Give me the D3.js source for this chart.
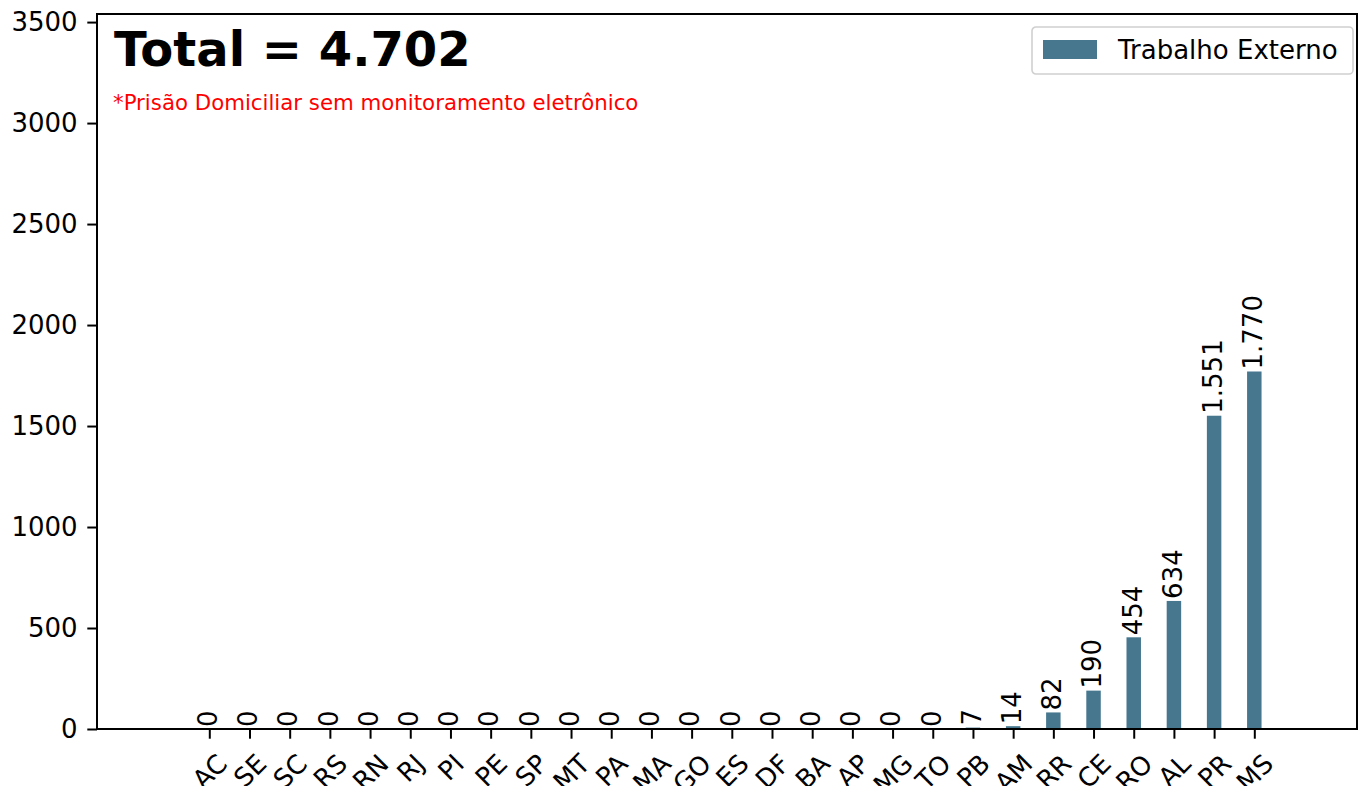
<!DOCTYPE html>
<html>
<head>
<meta charset="utf-8">
<script src="https://cdn.jsdelivr.net/npm/d3@7"></script>
<style>
  body { margin: 0; background: #fff; }
  svg { display: block; font-family: "DejaVu Sans", sans-serif; }
  svg text { font-family: "DejaVu Sans", sans-serif; }
</style>
</head>
<body>
<div id="chart"></div>
<script>
// states, ordered as in the picture
var states = ["AC", "SE", "SC", "RS", "RN", "RJ", "PI", "PE", "SP", "MT", "PA", "MA", "GO", "ES",
    "DF", "BA", "AP", "MG", "TO", "PB", "AM", "RR", "CE", "RO", "AL", "PR", "MS"];
var trabalhoExterno = [0, 0, 0, 0, 0, 0, 0, 0, 0, 0, 0, 0, 0, 0,
    0, 0, 0, 0, 0, 7, 14, 82, 190, 454, 634, 1551, 1770];
var yTicks = [0, 500, 1000, 1500, 2000, 2500, 3000, 3500];
var seriesName = "Trabalho Externo";
var subtitle = "*Prisão Domiciliar sem monitoramento eletrônico";

// brazilian thousands separator
var fmt = function(v){ return d3.format(",")(v).replace(/,/g, "."); };
var total = d3.sum(trabalhoExterno);

var margin = {top: 14, right: 2, bottom: 57, left: 97};
var W = 1359, H = 786;
var width = W - margin.left - margin.right;
var height = H - margin.top - margin.bottom;
var barColor = "#46778f";
var fs = 26;      // tick / label font size
var tickLen = 9.7;

var svg = d3.select("#chart").append("svg")
    .attr("width", W)
    .attr("height", H);

var g = svg.append("g")
    .attr("transform", "translate(" + margin.left + "," + margin.top + ")");

var x = d3.scaleLinear()
    .domain([-2.794, states.length - 1 + 2.555])
    .range([0, width]);

var y = d3.scaleLinear()
    .domain([0, 2 * d3.max(trabalhoExterno)])
    .range([height, 0]);

var step = x(1) - x(0);
var barW = step * 0.36;

// bars
g.selectAll("rect.bar")
    .data(trabalhoExterno)
    .enter().append("rect")
    .attr("class", "bar")
    .attr("x", (d, i) => x(i) - barW / 2)
    .attr("y", d => y(d))
    .attr("width", barW)
    .attr("height", d => height - y(d))
    .attr("fill", barColor);

// value labels, rotated
g.selectAll("text.val")
    .data(trabalhoExterno)
    .enter().append("text")
    .attr("class", "val")
    .attr("transform", (d, i) => "translate(" + x(i) + "," + (y(d) - 2) + ") rotate(-90)")
    .attr("dy", "0.3em")
    .attr("text-anchor", "start")
    .style("font-size", fs + "px")
    .text(d => fmt(d));

// y axis
var yAxis = g.append("g")
    .call(d3.axisLeft(y).tickValues(yTicks).tickSize(tickLen).tickPadding(tickLen).tickFormat(d3.format("d")));
yAxis.attr("font-family", null);
yAxis.selectAll("text").style("font-size", fs + "px").attr("fill", "#000");
yAxis.selectAll("line").attr("stroke-width", 2);
yAxis.select(".domain").remove();

// x axis
var xAxis = g.append("g")
    .attr("transform", "translate(0," + height + ")")
    .call(d3.axisBottom(x).tickValues(d3.range(states.length)).tickSize(tickLen).tickFormat(i => states[i]));
xAxis.attr("font-family", null);
xAxis.select(".domain").remove();
xAxis.selectAll("line").attr("stroke-width", 2);
xAxis.selectAll("text")
    .style("font-size", fs + "px")
    .attr("fill", "#000")
    .attr("text-anchor", "middle")
    .attr("dy", null)
    .attr("dominant-baseline", "central")
    .each(function(){
        var t = d3.select(this);
        var w = this.getComputedTextLength();
        var bh = (w + fs * 1.16) * Math.SQRT1_2;
        t.attr("y", null)
         .attr("transform", "translate(0," + (2 * tickLen + bh / 2) + ") rotate(-45)");
    });

// spines
g.append("rect")
    .attr("x", 0).attr("y", 0)
    .attr("width", width).attr("height", height)
    .attr("fill", "none")
    .attr("stroke", "#000")
    .attr("stroke-width", 2);

// title and note
g.append("text")
    .attr("x", 17)
    .attr("y", 52)
    .style("font-size", "48px")
    .style("font-weight", "bold")
    .text("Total = " + fmt(total));

g.append("text")
    .attr("x", 16)
    .attr("y", 96)
    .style("font-size", "21.3px")
    .attr("fill", "red")
    .text(subtitle);

// legend
var lg = g.append("g").attr("transform", "translate(" + (width - 325) + ",13)");
lg.append("rect")
    .attr("width", 321).attr("height", 47)
    .attr("rx", 4)
    .attr("fill", "#fff")
    .attr("stroke", "#d0d0d0")
    .attr("stroke-width", 1.6);
lg.append("rect")
    .attr("x", 11).attr("y", 13)
    .attr("width", 54).attr("height", 19)
    .attr("fill", barColor);
lg.append("text")
    .attr("x", 86).attr("y", 23)
    .attr("dy", "0.36em")
    .style("font-size", fs + "px")
    .text(seriesName);
</script>
</body>
</html>
